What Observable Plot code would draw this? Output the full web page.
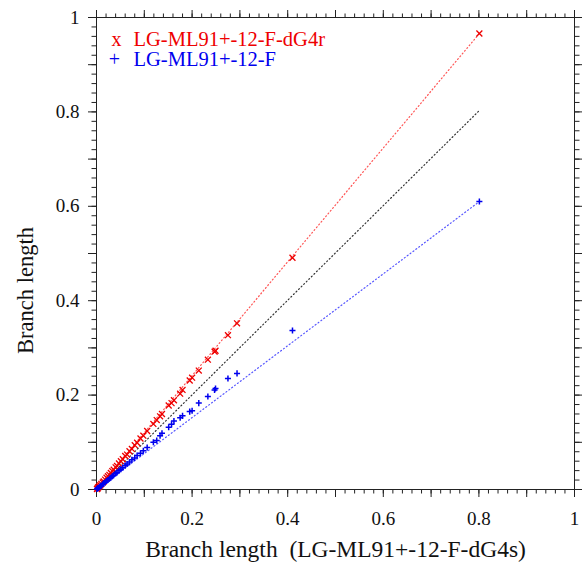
<!DOCTYPE html>
<html><head><meta charset="utf-8">
<script src="https://cdn.jsdelivr.net/npm/d3@7"></script>
<script src="https://cdn.jsdelivr.net/npm/@observablehq/plot@0.6"></script>
<style>body{margin:0;background:#fff}svg{display:block}</style>
</head><body><div id="chart"></div>
<script>
// Shared x values: branch lengths in LG-ML91+-12-F-dG4s
const xs = [0.801, 0.410, 0.294, 0.275, 0.249, 0.247, 0.233, 0.214, 0.200, 0.195,
  0.180, 0.175, 0.162, 0.157, 0.151, 0.137, 0.133, 0.126, 0.119, 0.106, 0.098,
  0.092, 0.085, 0.080, 0.074, 0.069, 0.064, 0.060, 0.055, 0.051, 0.047, 0.043,
  0.040, 0.036, 0.033, 0.030, 0.027, 0.024, 0.021, 0.018, 0.015, 0.013, 0.010,
  0.008, 0.006, 0.004, 0.003, 0.002, 0.001];
// LG-ML91+-12-F-dG4r
const redYs = [0.966, 0.491, 0.352, 0.327, 0.294, 0.292, 0.275, 0.252, 0.237, 0.231,
  0.211, 0.203, 0.189, 0.183, 0.178, 0.160, 0.155, 0.147, 0.139, 0.124, 0.114,
  0.108, 0.099, 0.094, 0.086, 0.081, 0.074, 0.071, 0.064, 0.060, 0.055, 0.050,
  0.047, 0.042, 0.039, 0.035, 0.031, 0.028, 0.025, 0.021, 0.017, 0.015, 0.012,
  0.009, 0.007, 0.005, 0.004, 0.002, 0.001];
// LG-ML91+-12-F
const blueYs = [0.610, 0.337, 0.246, 0.235, 0.214, 0.211, 0.197, 0.183, 0.167, 0.165,
  0.156, 0.152, 0.145, 0.138, 0.132, 0.119, 0.114, 0.104, 0.100, 0.089, 0.082,
  0.077, 0.072, 0.067, 0.063, 0.058, 0.054, 0.051, 0.046, 0.043, 0.040, 0.036,
  0.034, 0.030, 0.028, 0.025, 0.023, 0.020, 0.018, 0.015, 0.013, 0.011, 0.008,
  0.007, 0.005, 0.003, 0.003, 0.002, 0.001];

const seriesNames = ["LG-ML91+-12-F-dG4r", "LG-ML91+-12-F"];
const seriesSymbolsText = ["x", "+"];
const fitNames = ["dG4r fit", "y = x", "F fit"];
const fitEndY = [0.966, 0.803, 0.610];
const xTitle = "Branch length  (LG-ML91+-12-F-dG4s)";
const yTitle = "Branch length";
const labelTicks = [0, 0.2, 0.4, 0.6, 0.8, 1];
const majorTicks = d3.range(0, 11).map(i => i / 10);
const minorTicks = d3.range(0, 51).map(i => i / 50);

const redPts = xs.map((x, i) => ({x, y: redYs[i]}));
const bluePts = xs.map((x, i) => ({x, y: blueYs[i]}));
const xMax = d3.max(xs);
const fitRows = fitNames.flatMap((name, i) => [
  {name, x: 0, y: 0}, {name, x: xMax, y: fitEndY[i]}
]);

const serif = "Liberation Serif, DejaVu Serif, serif";
const fmt = d => String(+d.toFixed(1));
const noText = () => "";

function ticksFor(axis, anchor) {
  const A = axis === "x" ? Plot.axisX : Plot.axisY;
  return [
    A(minorTicks, {anchor, tickSize: 4.5, tickFormat: noText, label: null, stroke: "#222"}),
    A(majorTicks, {anchor, tickSize: 8, tickFormat: noText, label: null, stroke: "#222"})
  ];
}

const chart = Plot.plot({
  width: 582,
  height: 565,
  marginLeft: 96,
  marginRight: 8,
  marginTop: 17,
  marginBottom: 76,
  x: {domain: [0, 1]},
  y: {domain: [0, 1]},
  color: {domain: fitNames, range: ["#ff5555", "#333333", "#5555ff"]},
  marks: [
    ...ticksFor("x", "bottom"),
    ...ticksFor("x", "top"),
    ...ticksFor("y", "left"),
    ...ticksFor("y", "right"),
    Plot.axisX(labelTicks, {anchor: "bottom", tickSize: 0, tickPadding: 22, tickFormat: fmt, label: null, fontSize: 19, fill: "#111", fontFamily: serif}),
    Plot.axisY(labelTicks, {anchor: "left", tickSize: 0, tickPadding: 17, tickFormat: fmt, label: null, fontSize: 19, fill: "#111", fontFamily: serif}),
    Plot.frame({stroke: "#222", strokeWidth: 1}),
    Plot.line(fitRows, {x: "x", y: "y", z: "name", stroke: "name", strokeWidth: 1.2, strokeDasharray: "1,2.6"}),
    Plot.dot(redPts, {x: "x", y: "y", symbol: "times", r: 2.8, stroke: "#ee0000", strokeWidth: 1.3}),
    Plot.dot(bluePts, {x: "x", y: "y", symbol: "plus", r: 2.1, stroke: "#0000ee", strokeWidth: 1.5}),
    Plot.text([xTitle], {frameAnchor: "bottom", dy: 60, fontSize: 23.5, fill: "#111", textAnchor: "middle", lineAnchor: "middle", fontFamily: serif}),
    Plot.text([yTitle], {frameAnchor: "left", dx: -71, dy: 37, rotate: -90, fontSize: 22.5, fill: "#111", textAnchor: "middle", lineAnchor: "middle", fontFamily: serif}),
    Plot.text([seriesSymbolsText[0]], {frameAnchor: "top-left", dx: 20, dy: 22, fontSize: 20, fill: "#ee0000", textAnchor: "middle", lineAnchor: "middle", fontFamily: serif}),
    Plot.text([seriesNames[0]], {frameAnchor: "top-left", dx: 37, dy: 22, fontSize: 20.5, fill: "#ee0000", textAnchor: "start", lineAnchor: "middle", fontFamily: serif}),
    Plot.text([seriesSymbolsText[1]], {frameAnchor: "top-left", dx: 18, dy: 42, fontSize: 20, fill: "#0000ee", textAnchor: "middle", lineAnchor: "middle", fontFamily: serif}),
    Plot.text([seriesNames[1]], {frameAnchor: "top-left", dx: 37, dy: 42, fontSize: 20.5, fill: "#0000ee", textAnchor: "start", lineAnchor: "middle", fontFamily: serif})
  ]
});
document.getElementById("chart").append(chart);
</script>
</body></html>
